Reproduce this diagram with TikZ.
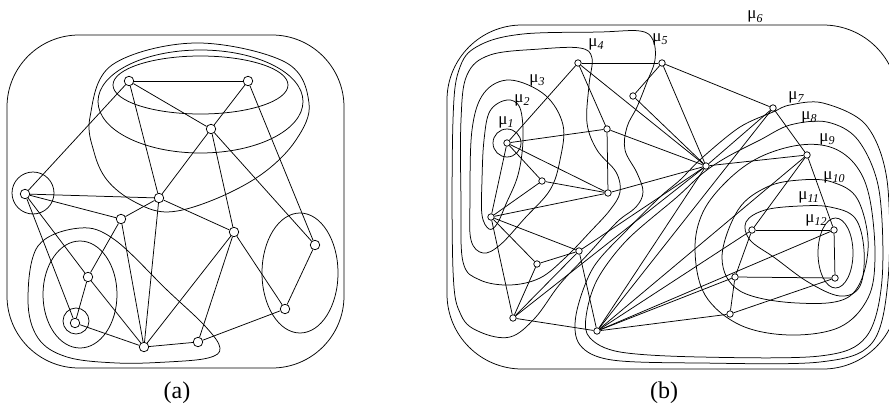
\documentclass[tikz,border=0pt]{standalone}
\usepackage{fontspec}
\setmainfont{Liberation Serif}
\newcommand\mulabel[1]{μ\kern0.2pt\raisebox{-3pt}{\fontsize{12}{12}\selectfont\itshape #1}}
\begin{document}
\begin{tikzpicture}[x=1pt,y=-1pt,line width=0.75pt,
  vtx/.style={circle,draw,fill=white,inner sep=0pt,minimum size=9.5pt},
  vtxb/.style={circle,draw,fill=white,inner sep=0pt,minimum size=6.5pt},
  mulab/.style={anchor=base west,inner sep=0pt,font=\fontsize{17}{17}\selectfont},
  captxt/.style={font=\fontsize{24}{24}\selectfont}]
\useasboundingbox (0,0) rectangle (889,415);
\clip (0,0) rectangle (889,415);
% ---------------- panel (a) curves
\draw[rounded corners=72pt] (7,35) rectangle (344,368);
\draw (33,193) circle[radius=21pt];
\draw (76,321) circle[radius=13pt];
\draw (80,294.5) ellipse[x radius=37pt,y radius=53.5pt];
\draw (300,273) ellipse[x radius=38pt,y radius=60pt];
\draw (200.5,85) ellipse[x radius=87.5pt,y radius=29pt];
\draw (200.5,101.5) ellipse[x radius=102.5pt,y radius=51.5pt];
\draw plot[smooth cycle,tension=0.6] coordinates {(90,117) (112,65) (195,43) (285,62) (309,103) (296,140) (262,174) (213,200) (167,212) (133,201) (107,180) (94,152)};
\draw plot[smooth cycle,tension=0.6] coordinates {(28,300) (38,246) (80,228) (115,240) (167,290) (205,326) (220,348) (208,358) (167,362) (117,363) (67,357) (38,338)};
% ---------------- panel (a) nodes
\node[vtx] (A1) at (129,81) {};
\node[vtx] (A2) at (248,81) {};
\node[vtx] (A3) at (211,129) {};
\node[vtx] (A4) at (25,194) {};
\node[vtx] (A5) at (159,198) {};
\node[vtx] (A6) at (121,219) {};
\node[vtx] (A7) at (234,232) {};
\node[vtx] (A8) at (315,245) {};
\node[vtx] (A9) at (88,277) {};
\node[vtx] (A10) at (75,323) {};
\node[vtx] (A11) at (285,309) {};
\node[vtx] (A12) at (144,347) {};
\node[vtx] (A13) at (198,342) {};
\foreach \u/\v in {A1/A2,A1/A3,A1/A4,A1/A5,A2/A3,A2/A8,A3/A5,A3/A7,A3/A8,A4/A5,A4/A6,A4/A9,A4/A10,A5/A6,A5/A7,A5/A12,A6/A9,A6/A12,A9/A10,A9/A12,A10/A12,A12/A13,A12/A7,A13/A7,A7/A11,A11/A8,A11/A13}
  \draw (\u) -- (\v);
\node[captxt] (capa) at (177,393) {(a)};
% ---------------- panel (b) curves
\draw[rounded corners=75pt] (447,25) rectangle (898,369);
\draw (507,143) circle[radius=14pt];
\draw plot[smooth cycle,tension=0.6] coordinates {(484,140) (490,111) (507,100) (520,108) (523,140) (518,175) (506,204) (497,224) (489,229) (482,215) (482,180)};
\draw plot[smooth cycle,tension=0.6] coordinates {(510,80) (545,95) (563,125) (560,160) (550,190) (525,218) (500,245) (483,253) (471,240) (470,200) (472,130) (484,93)};
\draw plot[smooth cycle,tension=0.6] coordinates {(461,120) (467,75) (490,55) (540,49) (580,48) (592,58) (589,85) (587,123) (597,150) (616,172) (620,192) (610,210) (590,232) (565,258) (540,278) (510,285) (480,280) (463,262) (461,200)};
\draw plot[smooth cycle,tension=0.6] coordinates {(453,120) (460,67) (480,45) (523,34) (600,32) (640,31) (653,40) (655,60) (647,82) (637,107) (627,127) (625,150) (637,173) (643,192) (636,207) (617,222) (590,252) (560,284) (535,318) (510,337) (480,332) (461,315) (453,270)};
\draw plot[smooth cycle,tension=0.55] coordinates {(823,103) (790,105) (773,112) (740,127) (703,157) (680,180) (660,197) (627,230) (593,268) (576,315) (580,345) (612,360) (700,363) (820,362) (872,343) (888,280) (887,180) (866,125)};
\draw plot[smooth cycle,tension=0.55] coordinates {(827,122) (790,125) (760,140) (727,157) (703,173) (677,197) (627,240) (597,280) (586,317) (590,338) (620,352) (700,357) (820,356) (866,337) (882,280) (879,190) (858,140)};
\draw plot[smooth cycle,tension=0.6] coordinates {(800,145) (760,157) (728,180) (703,212) (695,250) (705,295) (740,325) (790,335) (840,327) (868,298) (875,257) (870,200) (857,167) (833,148)};
\draw plot[smooth cycle,tension=0.6] coordinates {(800,180) (767,187) (738,210) (722,258) (740,291) (797,303) (850,296) (868,250) (858,200) (832,182)};
\draw plot[smooth cycle,tension=0.6] coordinates {(800,206) (765,210) (746,222) (750,240) (775,258) (808,282) (840,296) (860,286) (864,250) (855,218) (830,207)};
\draw (835.5,253) ellipse[x radius=17.5pt,y radius=35pt];
% ---------------- panel (b) nodes
\node[vtxb] (B1) at (507,143) {};
\node[vtxb] (B2) at (578,63) {};
\node[vtxb] (B3) at (662,63) {};
\node[vtxb] (B4) at (633,96) {};
\node[vtxb] (B5) at (607,129) {};
\node[vtxb] (B6) at (542,181) {};
\node[vtxb] (B7) at (608,193) {};
\node[vtxb] (B8) at (491,217) {};
\node[vtxb] (B9) at (537,264) {};
\node[vtxb] (B10) at (579,251) {};
\node[vtxb] (B11) at (513,318) {};
\node[vtxb] (B12) at (597,331) {};
\node[vtxb] (B13) at (706,166) {};
\node[vtxb] (B14) at (773,108) {};
\node[vtxb] (B15) at (807,155) {};
\node[vtxb] (B16) at (752,230) {};
\node[vtxb] (B17) at (834,230) {};
\node[vtxb] (B18) at (735,277) {};
\node[vtxb] (B19) at (835,278) {};
\node[vtxb] (B20) at (730,314) {};
\foreach \u/\v in {B1/B2,B1/B5,B1/B6,B1/B7,B1/B8,B2/B3,B2/B5,B2/B13,B4/B13,B3/B4,B3/B13,B3/B14,B5/B7,B5/B13,B6/B7,B6/B8,B7/B8,B7/B13,B8/B9,B8/B10,B8/B11,B9/B10,B9/B11,B10/B11,B10/B12,B10/B13,B11/B12,B11/B13,B12/B13,B12/B14,B12/B15,B12/B16,B12/B17,B12/B18,B12/B20,B13/B14,B13/B15,B14/B15,B15/B16,B15/B17,B16/B17,B16/B18,B17/B19,B18/B19,B18/B20,B19/B20}
  \draw (\u) -- (\v);
% ---------------- labels
\node[mulab] (m1) at (498,124) {\mulabel{1}};
\node[mulab] (m2) at (514,102) {\mulabel{2}};
\node[mulab] (m3) at (529,82) {\mulabel{3}};
\node[mulab] (m4) at (588,46) {\mulabel{4}};
\node[mulab] (m5) at (652,41) {\mulabel{5}};
\node[mulab] (m6) at (747,19) {\mulabel{6}};
\node[mulab] (m7) at (788,99) {\mulabel{7}};
\node[mulab] (m8) at (801,119) {\mulabel{8}};
\node[mulab] (m9) at (819,141) {\mulabel{9}};
\node[mulab] (m10) at (823,179) {\mulabel{10}};
\node[mulab] (m11) at (798,199) {\mulabel{11}};
\node[mulab] (m12) at (805,222) {\mulabel{12}};
\node[captxt] (capb) at (664,393) {(b)};
\end{tikzpicture}
\end{document}
